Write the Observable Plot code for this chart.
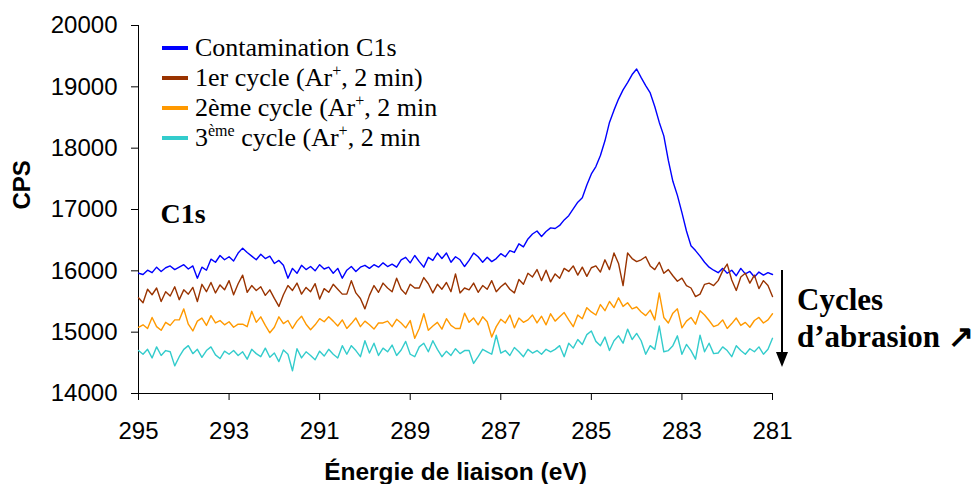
<!DOCTYPE html>
<html><head><meta charset="utf-8">
<script src="https://cdn.jsdelivr.net/npm/d3@7"></script>
<script src="https://cdn.jsdelivr.net/npm/@observablehq/plot@0.6"></script>
<style>
html,body{margin:0;padding:0;background:#fff;}
#chart{position:relative;width:973px;height:484px;}
</style></head><body><div id="chart"></div>
<script>
// Binding energy grid (eV), read left to right on the reversed axis
const energyStart = 295;
const energyStep = 0.1;
const xTicks = [295, 293, 291, 289, 287, 285, 283, 281];
const yTicks = [14000, 15000, 16000, 17000, 18000, 19000, 20000];
const seriesNames = ["Contamination C1s", "1er cycle", "2ème cycle", "3ème cycle"];
const seriesColors = ["#0000FF", "#993300", "#FF9900", "#33CCCC"];

const contamination = [
15960,15940,16010,15970,16060,15990,16050,16080,16020,16060,
16100,16030,16080,15880,16060,16010,16190,16140,16250,16180,
16230,16160,16290,16370,16300,16240,16180,16270,16200,16240,
16120,16170,16090,15880,16040,15960,16090,16020,16070,16000,
16100,16030,16060,15960,16040,15880,16010,16070,15990,16060,
16090,16040,16100,16060,16130,16070,16110,16060,16180,16220,
16130,16250,16150,16060,16220,16170,16290,16200,16290,16140,
16230,16180,16070,16170,16290,16230,16140,16220,16150,16200,
16280,16230,16330,16300,16440,16390,16520,16600,16650,16560,
16640,16700,16690,16740,16830,16900,17010,17120,17190,17400,
17580,17700,17880,18120,18420,18620,18800,18950,19070,19200,
19290,19150,19020,18900,18680,18420,18200,17800,17460,17230,
16950,16650,16410,16330,16240,16140,16060,16010,15970,16040,
15960,16010,15920,16040,15950,15990,15900,15980,15930,15970,15940];

const cycle1 = [
15560,15480,15700,15610,15720,15500,15660,15590,15740,15530,
15690,15620,15730,15500,15780,15660,15810,15640,15770,15690,
15840,15610,15790,15930,15650,15760,15680,15740,15600,15690,
15550,15420,15610,15760,15680,15800,15620,15730,15660,15790,
15540,15710,15650,15780,15700,15620,15620,15840,15640,15550,
15380,15600,15760,15650,15800,15720,15660,15880,15700,15620,
15780,15720,15720,15890,15790,15640,15780,15700,15810,15660,
15950,15640,15720,15690,15800,15650,15760,15700,15840,15660,
15740,15800,15700,15640,15860,15780,15960,15900,16020,15840,
16010,15820,15950,15880,16040,15990,16080,15930,16060,15910,
16050,16080,15980,16180,16020,16290,16120,15760,16290,16200,
16150,16180,16230,16080,16020,16140,15960,16020,15920,15830,
15880,15760,15720,15580,15620,15780,15800,15760,15840,16000,
16110,15850,15680,15900,15960,15800,15930,15710,15840,15760,15580];

const cycle2 = [
15080,15120,15060,15240,15090,15030,15160,15110,15200,15200,
15380,15130,15020,15180,15230,15110,15270,15150,15190,15120,
15170,15080,15130,15130,15090,15340,15160,15250,15110,14990,
15080,15250,15140,15190,15060,15180,15260,15130,15040,15120,
15220,15170,15250,15180,15100,15200,15060,15140,15230,15090,
15180,15120,15050,15150,15150,15180,15090,15210,15150,15070,
15190,14900,15060,15300,15030,15100,15160,15050,15220,15110,
15060,15060,15310,15160,15230,15120,15250,15170,14920,15090,
15210,15150,15280,15070,15230,15160,15200,15280,15150,15260,
15120,15300,15180,15250,15320,15200,15090,15280,15220,15400,
15330,15280,15450,15350,15500,15400,15560,15420,15480,15380,
15410,15330,15270,15360,15200,15640,15240,15150,15310,15380,
15070,15180,15240,15130,15350,15280,15190,15090,15120,15200,
15060,15140,15230,15110,15160,15080,15190,15240,15150,15200,15300];

const cycle3 = [
14700,14640,14720,14580,14760,14620,14700,14680,14450,14600,
14720,14780,14650,14720,14590,14700,14760,14630,14570,14690,
14640,14700,14620,14680,14560,14720,14650,14600,14740,14590,
14660,14520,14710,14640,14370,14730,14580,14680,14620,14550,
14690,14610,14720,14640,14580,14780,14640,14780,14700,14600,
14860,14660,14820,14620,14740,14680,14790,14620,14710,14850,
14640,14600,14760,14820,14680,14860,14720,14600,14690,14620,
14730,14650,14700,14700,14490,14600,14720,14680,14640,14950,
14660,14700,14620,14750,14680,14600,14720,14660,14700,14640,
14720,14680,14720,14780,14600,14820,14740,14880,14800,14960,
15020,14850,14780,14920,14700,14860,14940,14820,15050,14880,
14980,14860,14640,14780,14720,15100,14680,14700,14780,14940,
14640,14800,14700,14560,14950,14680,14820,14650,14660,14760,
14700,14600,14780,14700,14640,14730,14680,14760,14640,14720,14900];

const allSeries = [contamination, cycle1, cycle2, cycle3];
const rows = allSeries.flatMap((vals, k) =>
  vals.map((v, i) => ({energy: +(energyStart - i * energyStep).toFixed(2), cps: v, series: seriesNames[k]})));

const serif = "'Liberation Serif', 'Times New Roman', serif";

const plot = Plot.plot({
  width: 973, height: 484,
  marginLeft: 138, marginRight: 201, marginTop: 25, marginBottom: 91,
  style: {fontFamily: "'Liberation Sans', Arial, sans-serif", fontSize: "24px", color: "#000", background: "#fff", overflow: "visible"},
  x: {domain: [295, 281], label: null},
  y: {domain: [14000, 20000], label: null},
  color: {domain: seriesNames, range: seriesColors},
  marks: [
    Plot.axisX({ticks: xTicks, tickSize: 7, tickPadding: 21, fontSize: 24, label: null, tickFormat: d => String(d)}),
    Plot.axisY({ticks: yTicks, tickSize: 7, tickPadding: 14, fontSize: 24, label: null, tickFormat: d => String(d)}),
    Plot.ruleX([295], {stroke: "#000"}),
    Plot.ruleY([14000], {stroke: "#000"}),
    Plot.line(rows, {x: "energy", y: "cps", z: "series", stroke: "series", strokeWidth: 1.4}),
    Plot.text(["Énergie de liaison (eV)"], {text: d => d, frameAnchor: "bottom", lineAnchor: "bottom", dy: 86, fontWeight: "bold", fontSize: 24.5}),
    Plot.text(["CPS"], {text: d => d, frameAnchor: "left", rotate: -90, dx: -116, fontWeight: "bold", fontSize: 24}),
    Plot.text(["C1s"], {text: d => d, frameAnchor: "top-left", textAnchor: "start", lineAnchor: "bottom", dx: 22, dy: 197, fontWeight: "bold", fontSize: 28, fontFamily: serif})
  ]
});
document.getElementById("chart").appendChild(plot);

// Legend inside the plot area (with superscripts)
const svg = d3.select(plot);
const leg = svg.append("g").attr("font-family", serif).attr("font-size", 26).attr("fill", "#000").attr("text-anchor", "start");
const legendParts = [
  [["Contamination C1s", false]],
  [["1er cycle (Ar", false], ["+", true], [", 2 min)", false]],
  [["2ème cycle (Ar", false], ["+", true], [", 2 min", false]],
  [["3", false], ["ème", true], [" cycle (Ar", false], ["+", true], [", 2 min", false]]
];
legendParts.forEach((parts, k) => {
  const base = 56 + k * 30;
  leg.append("line").attr("x1", 162).attr("x2", 188).attr("y1", base - 8).attr("y2", base - 8)
    .attr("stroke", seriesColors[k]).attr("stroke-width", 4);
  const t = leg.append("text").attr("x", 195).attr("y", base);
  let prevSup = false;
  parts.forEach(([s, sup]) => {
    const ts = t.append("tspan").text(s);
    if (sup) { ts.attr("font-size", 16).attr("dy", prevSup ? 0 : -10); }
    else if (prevSup) { ts.attr("dy", 10); }
    prevSup = sup;
  });
});

// Annotation: arrow + "Cycles d'abrasion"
const ann = svg.append("g").attr("text-anchor", "start");
ann.append("line").attr("x1", 782).attr("x2", 782).attr("y1", 270).attr("y2", 355).attr("stroke", "#000").attr("stroke-width", 2);
ann.append("path").attr("d", "M776,352 L788,352 L782,367 Z").attr("fill", "#000");
ann.append("text").attr("x", 797).attr("y", 310).attr("font-family", serif).attr("font-weight", "bold").attr("font-size", 31).text("Cycles");
ann.append("text").attr("x", 797).attr("y", 347).attr("font-family", serif).attr("font-weight", "bold").attr("font-size", 31).text("d’abrasion ↗");
</script></body></html>
